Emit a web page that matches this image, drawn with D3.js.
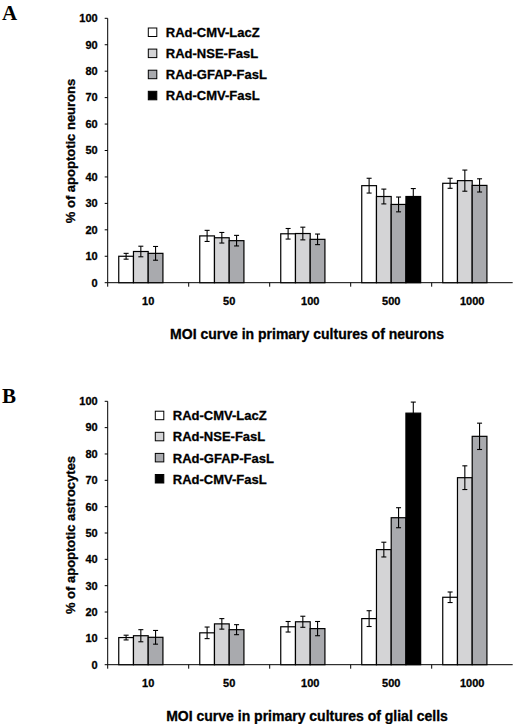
<!DOCTYPE html>
<html>
<head>
<meta charset="utf-8">
<script src="https://cdn.jsdelivr.net/npm/d3@7"></script>
<style>
  body { margin: 0; background: #fff; }
  svg { display: block; }
  text { font-family: "Liberation Sans", Arial, sans-serif; font-weight: bold; fill: #000; stroke: #000; stroke-width: 0.3px; }
  text.letter { stroke: none; }
</style>
</head>
<body>
<svg id="chart" width="518" height="724"></svg>
<script>
const groups = ["10", "50", "100", "500", "1000"];
const series = ["RAd-CMV-LacZ", "RAd-NSE-FasL", "RAd-GFAP-FasL", "RAd-CMV-FasL"];
const seriesColours = ["#ffffff", "#d4d4d6", "#a9aaae", "#000000"];
const yTicks = [0, 10, 20, 30, 40, 50, 60, 70, 80, 90, 100];

// panel A: neurons (null = not tested)
const neuronMeans = [
    [10.0, 11.8, 11.1, null],
    [17.7, 17.0, 15.9, null],
    [18.5, 18.6, 16.4, null],
    [36.7, 32.6, 29.6, 32.6],
    [37.6, 38.6, 36.8, null]
];
const neuronErrors = [
    [1.1, 2.0, 2.6, null],
    [2.1, 2.0, 2.0, null],
    [2.0, 2.4, 2.0, null],
    [2.8, 2.8, 2.8, 3.0],
    [1.9, 4.0, 2.5, null]
];

// panel B: astrocytes
const gliaMeans = [
    [10.3, 11.0, 10.4, null],
    [12.1, 15.5, 13.3, null],
    [14.4, 16.3, 13.7, null],
    [17.5, 43.7, 55.8, 95.5],
    [25.6, 71.0, 86.7, null]
];
const gliaErrors = [
    [0.9, 2.3, 2.6, null],
    [2.2, 2.0, 1.9, null],
    [2.0, 2.1, 2.7, null],
    [3.0, 2.8, 3.8, 4.2],
    [2.0, 4.5, 5.0, null]
];

const svg = d3.select("#chart");

const drawPanel = (cfg) => {
    const x0 = d3.scaleBand().domain(groups).range([cfg.left, cfg.right]);
    const x1 = d3.scaleBand().domain(series).range([0, x0.bandwidth()]).paddingOuter(0.75);
    const y = d3.scaleLinear().domain([0, 100]).range([cfg.bottom, cfg.top]);

    const g = svg.append("g");

    // panel letter
    g.append("text")
        .attr("class", "letter")
        .attr("x", 2)
        .attr("y", cfg.letterY)
        .style("font-family", "'Liberation Serif', 'Times New Roman', serif")
        .attr("font-size", 21)
        .text(cfg.letter);

    // y axis
    g.append("line")
        .attr("x1", cfg.left).attr("x2", cfg.left)
        .attr("y1", y(0)).attr("y2", y(100))
        .attr("stroke", "#000").attr("stroke-width", 1);

    g.selectAll("line.ytick")
        .data(yTicks)
        .join("line")
        .attr("class", "ytick")
        .attr("x1", cfg.left - 3).attr("x2", cfg.left)
        .attr("y1", d => y(d)).attr("y2", d => y(d))
        .attr("stroke", "#000");

    g.selectAll("text.ylab")
        .data(yTicks)
        .join("text")
        .attr("class", "ylab")
        .attr("x", cfg.left - 10)
        .attr("y", d => y(d))
        .attr("dy", "0.35em")
        .attr("text-anchor", "end")
        .attr("font-size", 11)
        .text(d => d);

    // x axis
    g.append("line")
        .attr("x1", cfg.left).attr("x2", cfg.right)
        .attr("y1", y(0)).attr("y2", y(0))
        .attr("stroke", "#000");

    g.selectAll("line.xtick")
        .data(groups)
        .join("line")
        .attr("class", "xtick")
        .attr("x1", d => x0(d)).attr("x2", d => x0(d))
        .attr("y1", y(0)).attr("y2", y(0) + 4)
        .attr("stroke", "#000");

    g.selectAll("text.xlab")
        .data(groups)
        .join("text")
        .attr("class", "xlab")
        .attr("x", d => x0(d) + x0.bandwidth() / 2)
        .attr("y", y(0) + 18)
        .attr("dy", "0.35em")
        .attr("text-anchor", "middle")
        .attr("font-size", 11)
        .text(d => d);

    // bars
    const groupG = g.selectAll("g.group")
        .data(groups.map((name, i) => ({
            name,
            bars: series.map((s, j) => ({ s, j, v: cfg.means[i][j], e: cfg.errors[i][j] }))
                .filter(b => b.v !== null)
        })))
        .join("g")
        .attr("class", "group")
        .attr("transform", d => `translate(${x0(d.name)}, 0)`);

    groupG.selectAll("rect")
        .data(d => d.bars)
        .join("rect")
        .attr("x", b => x1(b.s))
        .attr("y", b => y(b.v))
        .attr("width", x1.bandwidth())
        .attr("height", b => y(0) - y(b.v))
        .attr("fill", b => seriesColours[b.j])
        .attr("stroke", "#000")
        .attr("stroke-width", 1.2);

    const err = groupG.selectAll("g.err")
        .data(d => d.bars)
        .join("g")
        .attr("class", "err")
        .attr("transform", b => `translate(${x1(b.s) + x1.bandwidth() / 2}, 0)`)
        .attr("stroke", "#000")
        .attr("stroke-width", 1.1);

    err.append("line")
        .attr("x1", 0).attr("x2", 0)
        .attr("y1", b => y(b.v + b.e)).attr("y2", b => y(b.v - b.e));
    err.append("line")
        .attr("x1", -2.5).attr("x2", 2.5)
        .attr("y1", b => y(b.v + b.e)).attr("y2", b => y(b.v + b.e));
    err.append("line")
        .attr("x1", -2.5).attr("x2", 2.5)
        .attr("y1", b => y(b.v - b.e)).attr("y2", b => y(b.v - b.e));

    // legend
    const leg = g.selectAll("g.legend")
        .data(series)
        .join("g")
        .attr("class", "legend")
        .attr("transform", (d, i) => `translate(${cfg.legendX}, ${cfg.legendY + i * 21.1})`);

    leg.append("rect")
        .attr("x", 0).attr("y", -4.5)
        .attr("width", 8.5).attr("height", 8.5)
        .attr("fill", (d, i) => seriesColours[i])
        .attr("stroke", "#000");

    leg.append("text")
        .attr("x", 17.5)
        .attr("dy", "0.36em")
        .attr("font-size", 13)
        .text(d => d);

    // axis titles
    g.append("text")
        .attr("transform", `translate(${cfg.yTitleX}, ${cfg.yTitleY}) rotate(-90)`)
        .attr("text-anchor", "middle")
        .attr("dy", "0.35em")
        .attr("font-size", 13)
        .text(cfg.yTitle);

    g.append("text")
        .attr("x", 307)
        .attr("y", cfg.xTitleY)
        .attr("dy", "0.35em")
        .attr("text-anchor", "middle")
        .attr("font-size", 14)
        .text(cfg.xTitle);
};

drawPanel({
    letter: "A", letterY: 20,
    left: 107.7, right: 512.7, top: 18.3, bottom: 282.7,
    means: neuronMeans, errors: neuronErrors,
    legendX: 148.3, legendY: 32.5,
    yTitleX: 70, yTitleY: 151, yTitle: "% of apoptotic neurons",
    xTitleY: 334, xTitle: "MOI curve in primary cultures of neurons"
});

drawPanel({
    letter: "B", letterY: 403,
    left: 107.7, right: 512.7, top: 401.3, bottom: 664.7,
    means: gliaMeans, errors: gliaErrors,
    legendX: 155.3, legendY: 415.7,
    yTitleX: 70, yTitleY: 535, yTitle: "% of apoptotic astrocytes",
    xTitleY: 716.5, xTitle: "MOI curve in primary cultures of glial cells"
});
</script>
</body>
</html>
